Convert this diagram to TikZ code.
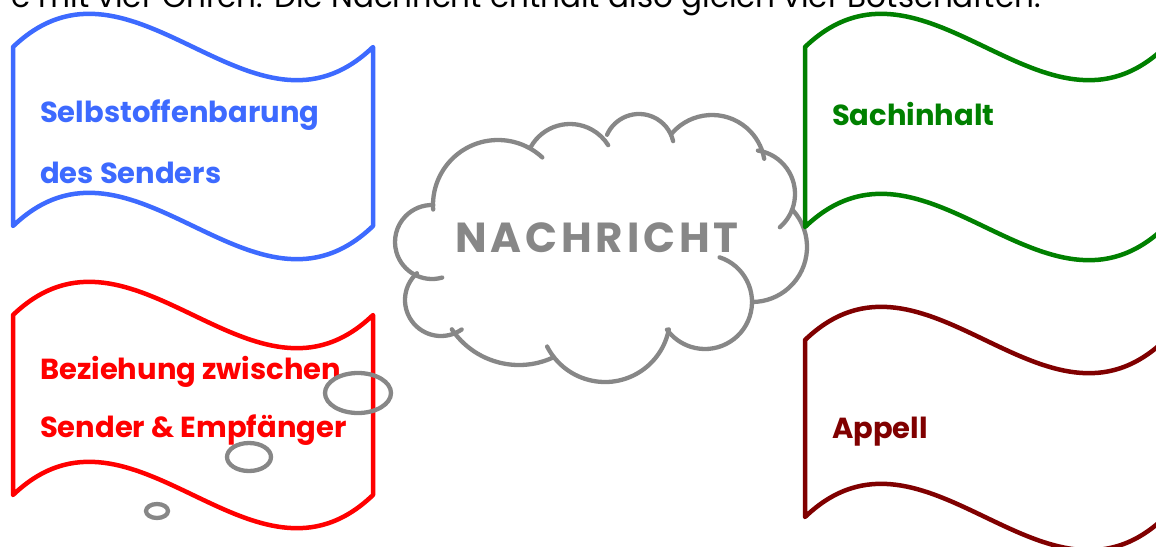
\documentclass[tikz,border=0pt]{standalone}
\usepackage{fontspec}
\setmainfont{Poppins}
\usepackage{xcolor}
\definecolor{selbstblue}{RGB}{61,106,255}
\definecolor{beziehungred}{RGB}{255,0,0}
\definecolor{sachgreen}{RGB}{0,128,0}
\definecolor{appellred}{RGB}{128,0,0}
\definecolor{cloudgray}{RGB}{135,135,135}
\tikzset{
  flagline/.style={line width=4.5pt,line cap=round,line join=round},
  flaglabel/.style={anchor=base west,inner sep=0pt,font=\fontsize{29}{29}\selectfont\bfseries},
}
\begin{document}
\begin{tikzpicture}[x=1pt,y=1pt,yscale=-1,line width=4.3pt,line cap=round,line join=round]
    \useasboundingbox (0,0) rectangle (1156,546);
    \clip (0,0) rectangle (1156,546);
    \node[anchor=base east,inner sep=0pt,font=\fontsize{31}{31}\selectfont] (intro) at (1043,7) {e mit vier Ohren. Die Nachricht enthält also gleich vier Botschaften.};
    \foreach \cx/\cy/\r/\a/\b in {498/205/65/176/313,570/169/45/209/328,639/149/35/204/347,712/168/53/221/350,751/194/44/279/409,752/247/55/318/450,705/302/47/288/504,605/317/65/11/153,519/284/81/66/146,441/300/36/55/228,432/242/37/74/272}{\draw[cloudgray] (\cx,\cy) ++(\a:\r) arc[start angle=\a,end angle=\b,radius=\r];}
    \node[anchor=base,inner sep=0pt,text=cloudgray,font=\fontsize{42}{42}\selectfont\bfseries\addfontfeature{LetterSpace=9}] (nachricht) at (597,252) {NACHRICHT};
    \foreach \fx/\fy/\fh/\fc in {13/47/179/selbstblue,13/315/180/beziehungred,805/47/180/sachgreen,805/340/177/appellred}{\draw[flagline,\fc,shift={(\fx,\fy)}] (0,0) .. controls (120,-115) and (240,115) .. (360,0) -- (360,\fh) .. controls (240,\fh+115) and (120,\fh-115) .. (0,\fh) -- cycle;}
    \node[flaglabel,text=selbstblue] (selbst1) at (38,122) {Selbstoffenbarung};
    \node[flaglabel,text=selbstblue] (selbst2) at (38,183) {des Senders};
    \node[flaglabel,text=beziehungred] (bez1) at (38,379) {Beziehung zwischen};
    \node[flaglabel,text=beziehungred] (bez2) at (38,437) {Sender \& Empfänger};
    \node[flaglabel,text=sachgreen] (sach) at (830,125) {Sachinhalt};
    \node[flaglabel,text=appellred] (appell) at (830,438) {Appell};
    \draw[cloudgray] (358,393) ellipse [x radius=33,y radius=20];
    \draw[cloudgray] (249,457) ellipse [x radius=22,y radius=14];
    \draw[cloudgray] (157,511) ellipse [x radius=11,y radius=7];
\end{tikzpicture}
\end{document}
